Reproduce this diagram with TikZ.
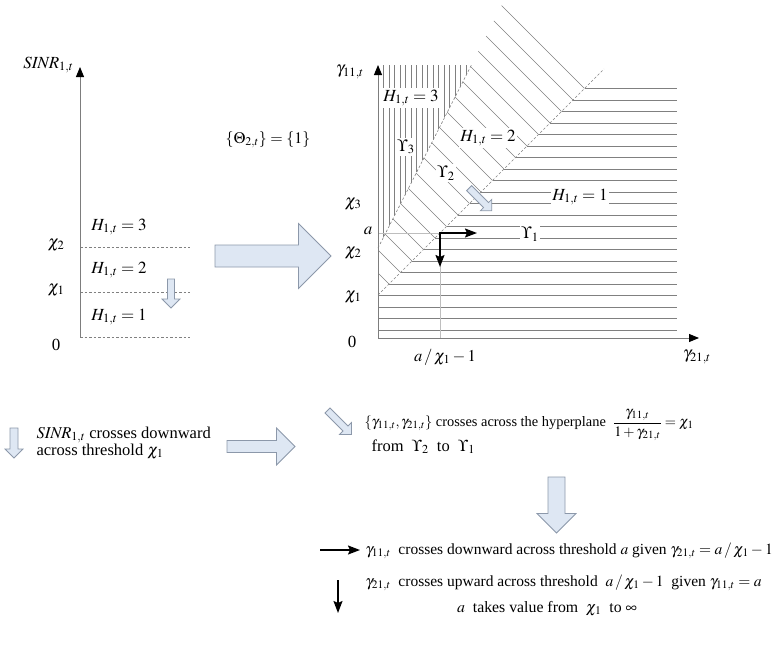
\documentclass[tikz,border=0pt]{standalone}
\usepackage{mathptmx}
\usepackage[no-math]{fontspec}
\setmainfont{Liberation Serif}
\usetikzlibrary{arrows.meta,calc}

\definecolor{hatch}{RGB}{128,128,128}
\definecolor{afill}{RGB}{222,231,243}
\definecolor{aline}{RGB}{140,152,170}
\definecolor{axisgray}{RGB}{125,125,125}
\definecolor{lightgray2}{RGB}{190,190,190}

\tikzset{
  hatchline/.style={draw=hatch, line width=0.6pt},
  vhatchline/.style={draw=hatch, line width=0.45pt},
  dashline/.style={draw=hatch, line width=0.6pt, dash pattern=on 2.5pt off 2pt},
  axisline/.style={draw=axisgray, line width=0.9pt, -{Triangle[length=10pt,width=8pt,color=black]}},
  lightline/.style={draw=lightgray2, line width=0.8pt},
  blackarr/.style={draw=black, line width=1.6pt, -{Stealth[length=12pt,width=9pt,inset=2pt]}},
  blkshape/.style={draw=aline, fill=afill, line width=0.8pt, line join=miter},
  plotlab/.style={font=\fontsize{17}{20}\selectfont},
  lab/.style={plotlab, fill=white, inner sep=1.5pt},
}

\newcommand\blkarrow[4]{%
  \coordinate (bt) at #1; \coordinate (bp) at #2;
  \coordinate (bq) at ($(bp)!#4!(bt)$);
  \draw[blkshape] ($(bt)!#3!90:(bp)$) -- ($(bq)!#3!90:(bp)$) -- ($(bq)!#4!90:(bp)$) -- (bp)
    -- ($(bq)!#4!-90:(bp)$) -- ($(bq)!#3!-90:(bp)$) -- ($(bt)!#3!-90:(bp)$) -- cycle;}

\begin{document}
\begin{tikzpicture}[x=1pt,y=-1pt,font=\fontsize{15}{17}\selectfont]
\useasboundingbox (0,0) rectangle (777,645);

% ---------------- left plot ----------------
\coordinate (L0) at (80,337);
\coordinate (Ltop) at (80,67);
\draw[dashline] (80,247) coordinate (Lc2) -- (190,247) coordinate (Lc2e);
\draw[dashline] (80,292) coordinate (Lc1) -- (190,292) coordinate (Lc1e);
\draw[dashline] (L0) -- (190,337) coordinate (L0e);
\draw[axisline] (L0) -- (Ltop);
\node[plotlab, anchor=east] (Lsinr) at (77,65) {$\mathit{SINR}_{1,t}$};
\node[plotlab, anchor=east] (Lchi2) at (68,245) {$\chi_2$};
\node[plotlab, anchor=east] (Lchi1) at (68,290) {$\chi_1$};
\node[plotlab, anchor=east] (Lzero) at (64,345) {0};
\node[plotlab] (LH3) at (119,227) {$H_{1,t}=3$};
\node[plotlab] (LH2) at (119,270) {$H_{1,t}=2$};
\node[plotlab] (LH1) at (119,317) {$H_{1,t}=1$};
\blkarrow{(171,279)}{(171,308)}{3.5pt}{9pt}

% ---------------- middle arrow ----------------
\blkarrow{(215,256)}{(331,256)}{11pt}{32.5pt}
\node[font=\fontsize{16}{19}\selectfont] (theta) at (268,140) {$\{\Theta_{2,t}\}=\{1\}$};

% ---------------- right plot ----------------
% region 3 : vertical hatching
\begin{scope}
  \clip (378,65) -- (471.4,65) -- (378,248) -- cycle;
  \foreach \k in {1,...,17} \draw[vhatchline] (378+5.5*\k,60) -- ++(0,200);
\end{scope}
% region 2 : diagonal hatching
\begin{scope}
  \clip (378,248) -- (505,-1) -- (590,83) -- (378,295) -- cycle;
  \foreach \j in {4,...,21} {
    \pgfmathsetmacro\yy{330-11.5*\j}
    \draw[hatchline] (673-\yy,\yy) -- ++(-260,-260);
  }
\end{scope}
% region 1 : horizontal hatching
\foreach \j in {0,...,21} {
  \pgfmathsetmacro\yy{330-11.5*\j}
  \pgfmathsetmacro\xs{max(378,673-\yy)}
  \draw[hatchline] (\xs,\yy) -- (677,\yy);
}
% hyperplanes
\draw[dashline] (378,295) coordinate (h1s) -- (604,69) coordinate (h1e);
\draw[dashline] (378,248) coordinate (h2s) -- (471.4,65) coordinate (h2e);
% a lines
\coordinate (corner) at (440,233);
\draw[lightline] (378,233) coordinate (aax) -- (corner);
\draw[lightline] (corner) -- (440,338) coordinate (abot);
% axes
\coordinate (O) at (378,338);
\draw[axisline] (O) -- (378,65) coordinate (Ytop);
\draw[axisline] (O) -- (699,338) coordinate (Xend);
% black arrows
\coordinate (cr) at (477,233);
\coordinate (cd) at (440,267);
\draw[draw=black, line width=1.6pt, {Stealth[length=12pt,width=9pt,inset=2pt]}-{Stealth[length=12pt,width=9pt,inset=2pt]}] (cd) -- (corner) -- (cr);
% labels
\node[lab] (RH3) at (411,98) {$H_{1,t}=3$};
\node[lab] (U3) at (406,147) {$\Upsilon_3$};
\node[lab] (RH2) at (488,138) {$H_{1,t}=2$};
\node[lab] (U2) at (446,173) {$\Upsilon_2$};
\node[lab] (RH1) at (580,197) {$H_{1,t}=1$};
\node[lab] (U1) at (530,234) {$\Upsilon_1$};
\blkarrow{(469.1,188.1)}{(491.7,210.7)}{3.5pt}{8pt}
\node[plotlab] (g11) at (350,72) {$\gamma_{11,t}$};
\node[plotlab, anchor=east] (Rchi3) at (365,204) {$\chi_3$};
\node[plotlab] (Ra) at (368,231) {$a$};
\node[plotlab, anchor=east] (Rchi2) at (365,253) {$\chi_2$};
\node[plotlab, anchor=east] (Rchi1) at (365,297) {$\chi_1$};
\node[plotlab] (Rzero) at (352,342) {0};
\node[plotlab] (g21) at (697,357) {$\gamma_{21,t}$};
\node[font=\fontsize{16.5}{19}\selectfont] (Rax) at (445,357) {$a\,/\,\chi_1-1$};

% ---------------- bottom ----------------
\blkarrow{(14,428)}{(14,458)}{4pt}{9pt}
\begin{scope}[font=\fontsize{16.5}{19}\selectfont]
\node[anchor=base west] (t1a) at (33,438) {$\mathit{SINR}_{1,t}$ crosses downward};
\node[anchor=base west] (t1b) at (33,455) {across threshold\ $\chi_1$};
\end{scope}
\blkarrow{(227,446.5)}{(295,446.5)}{6pt}{18.5pt}
\blkarrow{(327.5,410.5)}{(351.5,434.5)}{3.5pt}{8.5pt}
\node[anchor=base west, font=\fontsize{14.4}{17}\selectfont] (t2) at (361,426.5) {$\{\gamma_{11,t},\gamma_{21,t}\}$ crosses across the hyperplane\ \ $\displaystyle\frac{\gamma_{11,t}}{1+\gamma_{21,t}}=\chi_1$};
\node[anchor=base west, font=\fontsize{16.5}{19}\selectfont] (t3) at (368,451.5) {from\ \ $\Upsilon_2$\ \ to\ \ $\Upsilon_1$};
\blkarrow{(556.5,477)}{(556.5,533)}{8.5pt}{19.5pt}
\coordinate (k1s) at (320,550); \coordinate (k1e) at (360,550);
\draw[blackarr] (k1s) -- (k1e);
\node[anchor=base west, font=\fontsize{15.5}{18}\selectfont] (t4) at (362,554.5) {$\gamma_{11,t}$\ \ crosses downward across threshold $a$ given $\gamma_{21,t}=a\,/\,\chi_1-1$};
\coordinate (k2s) at (338,580); \coordinate (k2e) at (338,613);
\draw[blackarr] (k2s) -- (k2e);
\node[anchor=base west, font=\fontsize{15.5}{18}\selectfont] (t5) at (362,586.5) {$\gamma_{21,t}$\ \ crosses upward across threshold\ \ $a\,/\,\chi_1-1$\ \ given $\gamma_{11,t}=a$};
\node[anchor=base, font=\fontsize{15.8}{18}\selectfont] (t6) at (547,612.5) {$a$\ \ takes value from\ \ $\chi_1$\ \ to $\infty$};
\end{tikzpicture}
\end{document}
